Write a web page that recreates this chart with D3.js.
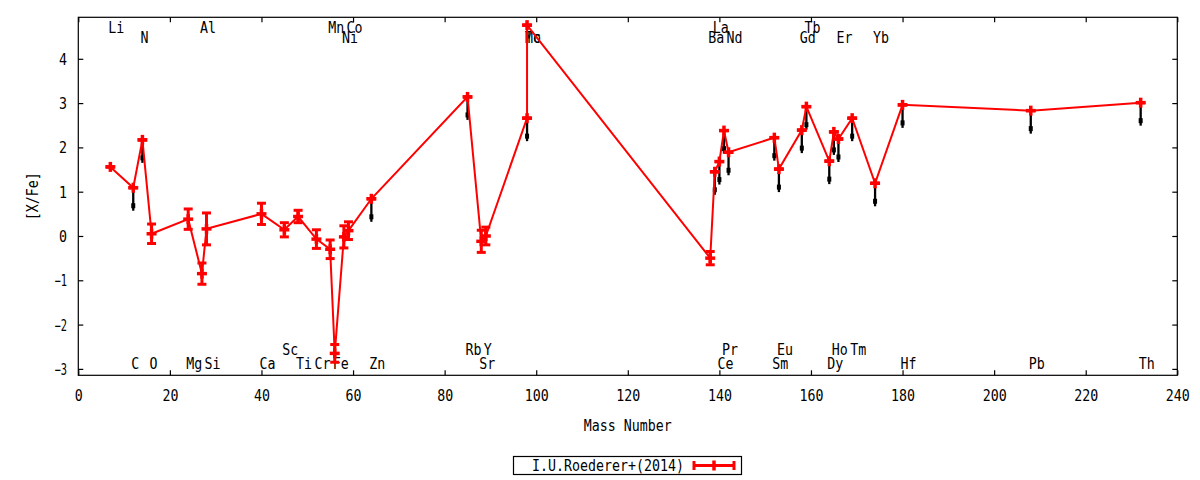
<!DOCTYPE html>
<html>
<head>
<meta charset="utf-8">
<script src="https://cdn.jsdelivr.net/npm/d3@7"></script>
<style>
  html, body { margin: 0; padding: 0; background: #fff; }
  svg text { font-family: "DejaVu Sans Mono", "Liberation Mono", monospace; font-size: 15px; fill: #000; }
</style>
</head>
<body>
<svg id="chart" width="1200" height="480"></svg>
<script>
// ---- data ----
const elements = ["Li","C","N","O","Mg","Al","Si","Ca","Sc","Ti","Cr","Mn","Fe","Ni","Co","Zn","Rb","Sr","Y","Mo","Tc","Ba","La","Ce","Pr","Nd","Sm","Eu","Gd","Tb","Dy","Ho","Er","Tm","Yb","Hf","Pb","Th"];
const massNumbers = [7,12,14,16,24,27,28,40,45,48,52,55,56,58,59,64,85,88,89,98,98,138,139,140,141,142,152,153,158,159,164,165,166,169,174,180,208,232];
const abundances = [1.56,1.09,2.17,0.05,0.38,-0.85,0.16,0.50,0.14,0.44,-0.07,-0.30,-2.65,-0.02,0.12,0.84,3.14,-0.12,0.00,2.66,4.76,-0.50,1.45,1.68,2.38,1.89,2.22,1.51,2.39,2.92,1.69,2.35,2.19,2.66,1.19,2.96,2.83,3.01];
const errors = [0,0,0,0.22,0.23,0.24,0.36,0.24,0.16,0.14,0.21,0.21,0.20,0.25,0.20,0,0,0.25,0.20,0,0,0.15,0,0,0,0,0,0,0,0,0,0,0,0,0,0,0,0];
const upperLimits = [0,1,1,0,0,0,0,0,0,0,0,0,0,0,0,1,1,0,0,1,0,0,1,1,1,1,1,1,1,1,1,1,1,1,1,1,1,1];
const labelRows = ["t1","b1","t2","b1","b1","t1","b1","b1","b2","b1","b1","t1","b1","t2","t1","b1","b2","b1","b2","t2","t2","t2","t1","b1","b2","t2","b1","b2","t2","t1","b1","b2","t2","b2","t2","b1","b1","b1"];
const xTicks = [0,20,40,60,80,100,120,140,160,180,200,220,240];
const yTicks = [-3,-2,-1,0,1,2,3,4];
const seriesName = "I.U.Roederer+(2014)";
const xTitle = "Mass Number";
const yTitle = "[X/Fe]";

// ---- layout ----
const L = 78.3, R = 1177.3, T = 17.3, B = 375.3;
const svg = d3.select("#chart");
const x = d3.scaleLinear().domain([0, 240]).range([L, R]);
const y = d3.scaleLinear().domain([-3.145, 4.937]).range([B, T]);
const CW = 8; // char width
function tl(s) { let w = 0; for (const c of String(s)) w += (c === "-" ? 4.5 : CW); return w; }
function squeeze(sel) { sel.attr("textLength", d => tl(typeof d === "object" ? d.t : d)).attr("lengthAdjust", "spacingAndGlyphs"); }

// frame
svg.append("rect").attr("x", L).attr("y", T).attr("width", R - L).attr("height", B - T)
  .attr("fill", "none").attr("stroke", "#000").attr("stroke-width", 1.2);

// axes (inward ticks, mirrored)
const axB = svg.append("g").attr("transform", `translate(0,${B})`).call(d3.axisBottom(x).tickValues(xTicks).tickSize(-5).tickFormat(d3.format("d")));
const axT = svg.append("g").attr("transform", `translate(0,${T})`).call(d3.axisTop(x).tickValues(xTicks).tickSize(-5).tickFormat(""));
const axLft = svg.append("g").attr("transform", `translate(${L},0)`).call(d3.axisLeft(y).tickValues(yTicks).tickSize(-5).tickFormat(d3.format("d")));
const axRgt = svg.append("g").attr("transform", `translate(${R},0)`).call(d3.axisRight(y).tickValues(yTicks).tickSize(-5).tickFormat(""));
[axB, axT, axLft, axRgt].forEach(a => {
  a.select(".domain").remove();
  a.selectAll(".tick line").attr("stroke", "#000").attr("stroke-width", 1.2);
  a.attr("font-family", null).attr("font-size", null);
});
axB.selectAll(".tick text").attr("y", 25.5).attr("dy", null).attr("text-anchor", "middle")
  .attr("textLength", d => tl(String(d))).attr("lengthAdjust", "spacingAndGlyphs");
axLft.selectAll(".tick text").attr("x", -11.3).attr("dy", "5.5").attr("text-anchor", "end")
  .attr("textLength", d => tl(String(d))).attr("lengthAdjust", "spacingAndGlyphs");
axT.selectAll(".tick text").remove();
axRgt.selectAll(".tick text").remove();

// axis titles
svg.append("text").attr("x", (L + R) / 2).attr("y", 430.5).attr("text-anchor", "middle")
  .attr("textLength", tl(xTitle)).attr("lengthAdjust", "spacingAndGlyphs").text(xTitle);
svg.append("text").attr("transform", `translate(37.5,${(T + B) / 2}) rotate(-90)`).attr("text-anchor", "middle")
  .attr("textLength", tl(yTitle)).attr("lengthAdjust", "spacingAndGlyphs").text(yTitle);

// data records
const data = elements.map((el, i) => ({ el, m: massNumbers[i], v: abundances[i], e: errors[i], ul: upperLimits[i], row: labelRows[i] }));

// element labels
const rowY = { t1: 33, t2: 43, b2: 355, b1: 368.5 };
svg.append("g").selectAll("text").data(data).join("text")
  .attr("x", d => x(d.m) - 2).attr("y", d => rowY[d.row]).attr("text-anchor", "start")
  .attr("textLength", d => tl(d.el)).attr("lengthAdjust", "spacingAndGlyphs")
  .text(d => d.el);

// upper-limit arrows (black)
const ulg = svg.append("g");
data.filter(d => d.ul).forEach(d => {
  ulg.append("line").attr("x1", x(d.m)).attr("x2", x(d.m)).attr("y1", y(d.v) + 4).attr("y2", y(d.v) + 23)
    .attr("stroke", "#000").attr("stroke-width", 2.3);
  ulg.append("rect").attr("x", x(d.m) - 2).attr("y", y(d.v) + 15.5).attr("width", 4).attr("height", 5).attr("fill", "#000");
});

// connecting line
const red = "#ff0000";
svg.append("path").datum(data)
  .attr("d", d3.line().x(d => x(d.m)).y(d => y(d.v)))
  .attr("fill", "none").attr("stroke", red).attr("stroke-width", 2);

// error bars and crosses
const mk = svg.append("g").attr("stroke", red);
data.forEach(d => {
  const cx = x(d.m), cy = y(d.v), y1 = y(d.v + d.e), y2 = y(d.v - d.e);
  mk.append("line").attr("x1", cx).attr("x2", cx).attr("y1", y1).attr("y2", y2).attr("stroke-width", 3);
  [y1, y2].forEach(yy => mk.append("line").attr("x1", cx - 4.5).attr("x2", cx + 4.5).attr("y1", yy).attr("y2", yy).attr("stroke-width", 3));
  mk.append("line").attr("x1", cx - 5).attr("x2", cx + 5).attr("y1", cy).attr("y2", cy).attr("stroke-width", 3.5);
  mk.append("line").attr("x1", cx).attr("x2", cx).attr("y1", cy - 5).attr("y2", cy + 5).attr("stroke-width", 3.5);
});

// legend
const lg = svg.append("g");
lg.append("rect").attr("x", 513.5).attr("y", 456.5).attr("width", 228).attr("height", 18)
  .attr("fill", "none").attr("stroke", "#000").attr("stroke-width", 1.2);
lg.append("text").attr("x", 684).attr("y", 470.5).attr("text-anchor", "end")
  .attr("textLength", tl(seriesName)).attr("lengthAdjust", "spacingAndGlyphs").text(seriesName);
const lx1 = 694, lx2 = 734, ly = 465.5;
lg.append("line").attr("x1", lx1).attr("x2", lx2).attr("y1", ly).attr("y2", ly).attr("stroke", red).attr("stroke-width", 3);
[lx1, lx2].forEach(xx => lg.append("line").attr("x1", xx).attr("x2", xx).attr("y1", ly - 4.5).attr("y2", ly + 4.5).attr("stroke", red).attr("stroke-width", 3));
lg.append("line").attr("x1", (lx1 + lx2) / 2).attr("x2", (lx1 + lx2) / 2).attr("y1", ly - 5).attr("y2", ly + 5).attr("stroke", red).attr("stroke-width", 3.5);
</script>
</body>
</html>
